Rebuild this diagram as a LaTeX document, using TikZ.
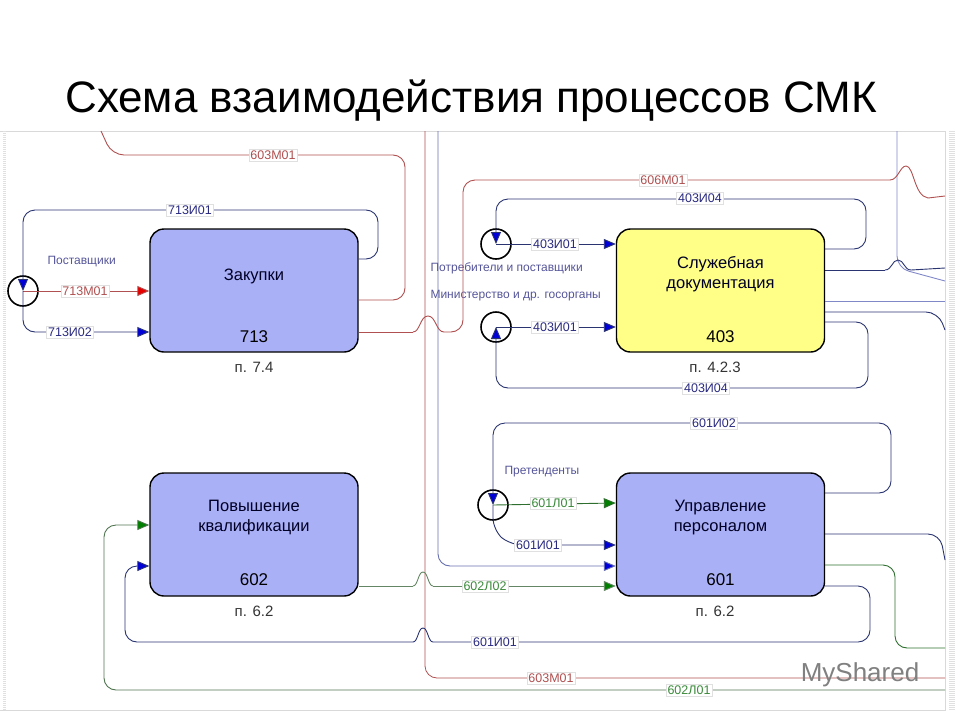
\documentclass[tikz,border=0pt]{standalone}
\usepackage{fontspec}
\setmainfont{Liberation Sans}
\usetikzlibrary{arrows.meta}
\definecolor{bx}{HTML}{AAB0F6}
\definecolor{yl}{HTML}{FFFF88}
\definecolor{dbl}{HTML}{2A3470}
\definecolor{lbl}{HTML}{8088C8}
\definecolor{rd}{HTML}{B05050}
\definecolor{gr}{HTML}{3A8A3A}
\definecolor{tb}{HTML}{2A2A80}
\begin{document}
\begin{tikzpicture}[x=1pt,y=-1pt,
  proc/.style={draw=black,line width=1.4pt,rounded corners=14pt,fill=bx,minimum width=208pt,minimum height=123pt,font=\fontsize{16.5}{20}\selectfont,align=center,text=black!85!blue},
  num/.style={font=\fontsize{17}{19}\selectfont},
  pcap/.style={font=\fontsize{15}{17}\selectfont,text=black!80},
  lab/.style={fill=white,draw=black!12,inner sep=1.5pt,font=\fontsize{12.5}{14}\selectfont},
  src/.style={circle,draw=black,line width=1.6pt,minimum size=30pt,inner sep=0pt},
  note/.style={font=\fontsize{12}{14}\selectfont,text=tb!80,anchor=west},
  ln/.style={line width=0.9pt,rounded corners=12pt},
  bump/.style={line width=0.9pt,sharp corners},
  bl/.style={ln,draw=dbl},
  rl/.style={ln,draw=rd},
  gl/.style={ln,draw=gr!80!black},
  ab/.style={-{Triangle[length=12pt,width=10pt,fill=blue!85!black]}},
  ar/.style={-{Triangle[length=12pt,width=10pt,fill=red!90!black]}},
  ag/.style={-{Triangle[length=12pt,width=10pt,fill=green!50!black]}},
]
\useasboundingbox (0,0) rectangle (960,720);
% frame
\draw[black!15,line width=1pt] (0,131) -- (945,131) -- (945,710) -- (0,710);
\draw[black!12,line width=3pt,dash pattern=on 1pt off 1pt] (4,131) -- (4,710);
\draw[black!12,line width=6pt,dash pattern=on 1pt off 1pt] (952,131) -- (952,710);
\node[font=\fontsize{44}{50}\selectfont,anchor=base] (title) at (471,112) {Схема взаимодействия процессов СМК};

% boxes
\node[proc] (zak) at (254,290.5) {};
\node[proc,fill=yl] (sl) at (720.5,290.5) {};
\node[proc] (pov) at (254,534.5) {};
\node[proc] (up) at (720.5,534.5) {};
\node[proc,draw=none,fill=none] (zakt) at (254,276) {Закупки};
\node[proc,draw=none,fill=none] (slt) at (720.5,274) {Служебная\\документация};
\node[proc,draw=none,fill=none] (povt) at (254,518) {Повышение\\квалификации};
\node[proc,draw=none,fill=none] (upt) at (720.5,518) {Управление\\персоналом};
\node[num] (n1) at (254,337) {713};
\node[num] (n2) at (720.5,337) {403};
\node[num] (n3) at (254,580) {602};
\node[num] (n4) at (720.5,580) {601};
\node[pcap] (c1) at (254,367) {п. 7.4};
\node[pcap] (c2) at (715,367) {п. 4.2.3};
\node[pcap] (c3) at (254,611) {п. 6.2};
\node[pcap] (c4) at (715,611) {п. 6.2};

% sources
\node[src] (s1) at (23,291) {};
\node[src] (s2) at (496,244) {};
\node[src] (s3) at (496,327) {};
\node[src] (s4) at (493,505) {};
\node[note] (t1) at (44,262) {Поставщики};
\node[note] (t2) at (427,268) {Потребители и поставщики};
\node[note] (t3) at (427,296) {Министерство и др. госорганы};
\node[note] (t4) at (501,472) {Претенденты};

% long verticals
\coordinate (rt) at (425,131);
\coordinate (btop) at (438,131);
\draw[rl,line width=0.8pt] (rt) -- (425,678) -- (945,678);
\draw[bl,draw=lbl!70!dbl,ab] (btop) -- (438,566) -- (up.west|-0,566);
\coordinate (gv) at (897,131);
\draw[bl,draw=lbl] (gv) -- (897,268) -- (945,281);

% 603M01 top
\coordinate (r0) at (101,131);
\draw[rl] (zak.east|-0,300) -- (405,300) -- (405,155) -- (112,155) -- (101,131);
% 713И01
\draw[bl,ab] (zak.east|-0,259) -- (378,259) -- (378,210) -- (23,210) -- (23,248) -- (s1.center);
\draw[rl,ar] (s1.center) -- (zak.west|-0,291);
\draw[bl,ab] (s1.center) -- (23,332) -- (zak.west|-0,332);
% red to 606M01
\draw[rl] (zak.east|-0,332) -- (413,332);
\draw[bump,draw=rd] (413,332) .. controls (420,332) and (420,316) .. (428,316) .. controls (436,316) and (436,332) .. (444,332);
\draw[rl] (444,332) -- (463,332) -- (463,180) -- (890,180);
\draw[bump,draw=rd] (890,180) .. controls (898,180) and (900,166) .. (906,166) .. controls (914,166) and (914,196) .. (928,198) -- (945,196);
% 403
\draw[bl,ab] (sl.east|-0,249) -- (866,249) -- (866,199) -- (496,199) -- (496,228) -- (s2.center);
\draw[bl,ab] (s2.center) -- (sl.west|-0,244);
\draw[bl,ab] (s3.center) -- (sl.west|-0,327);
\draw[bl,ab] (sl.east|-0,322) -- (868,322) -- (868,388) -- (496,388) -- (496,344) -- (s3.center);
\draw[bl] (sl.east|-0,270) -- (885,270);
\draw[bump,draw=dbl] (885,270) .. controls (892,270) and (892,260) .. (898,260) .. controls (904,260) and (904,270) .. (911,270) -- (945,268);
\draw[bl,draw=lbl] (sl.east|-0,301) -- (945,301);
\draw[bl] (sl.east|-0,312) -- (938,312) -- (945,330);
% 601
\draw[bl,ab] (up.east|-0,493) -- (891,493) -- (891,423) -- (493,423) -- (493,488) -- (s4.center);
\draw[gl,ag] (s4.center) -- (up.west|-0,503);
\draw[bl,ab] (s4.center) -- (493,530) -- (510,545) -- (up.west|-0,545);
\draw[gl,draw=gr!60!black!70] (pov.east|-0,586) -- (413,586);
\draw[bump,draw=gr!60!black!70] (413,586) .. controls (418,586) and (418,572) .. (423,572) .. controls (428,572) and (428,586) .. (433,586);
\draw[gl,draw=gr!60!black!70,ag] (433,586) -- (up.west|-0,586);
\draw[bl] (up.east|-0,586) -- (870,586) -- (870,642) -- (433,642);
\draw[bump,draw=dbl] (433,642) .. controls (428,642) and (428,628) .. (423,628) .. controls (418,628) and (418,642) .. (413,642);
\draw[bl,ab] (413,642) -- (125,642) -- (125,566) -- (pov.west|-0,566);
\draw[bl] (up.east|-0,534) -- (940,534) -- (945,560);
\draw[gl] (up.east|-0,565) -- (895,565) -- (895,648) -- (945,648);
\draw[gl,draw=gr!60!black!80,ag] (945,690) -- (104,690) -- (104,525) -- (pov.west|-0,525);

% labels
\node[lab,text=rd] (l1) at (273,155) {603М01};
\node[lab,text=tb] (l2) at (190,210) {713И01};
\node[lab,text=rd] (l3) at (85,291) {713М01};
\node[lab,text=tb] (l4) at (70,332) {713И02};
\node[lab,text=rd] (l5) at (663,180) {606М01};
\node[lab,text=tb] (l6) at (700,198) {403И04};
\node[lab,text=tb] (l7) at (555,244) {403И01};
\node[lab,text=tb] (l8) at (555,327) {403И01};
\node[lab,text=tb] (l9) at (706,388) {403И04};
\node[lab,text=tb] (l10) at (714,423) {601И02};
\node[lab,text=gr] (l11) at (553,503) {601Л01};
\node[lab,text=tb] (l12) at (538,545) {601И01};
\node[lab,text=gr] (l13) at (485,586) {602Л02};
\node[lab,text=tb] (l14) at (495,642) {601И01};
\node[lab,text=rd] (l15) at (551,678) {603М01};
\node[lab,text=gr] (l16) at (689,690) {602Л01};
\node[font=\fontsize{26}{28}\selectfont,text=black!50] (wm) at (860,675) {MyShared};
\end{tikzpicture}
\end{document}
